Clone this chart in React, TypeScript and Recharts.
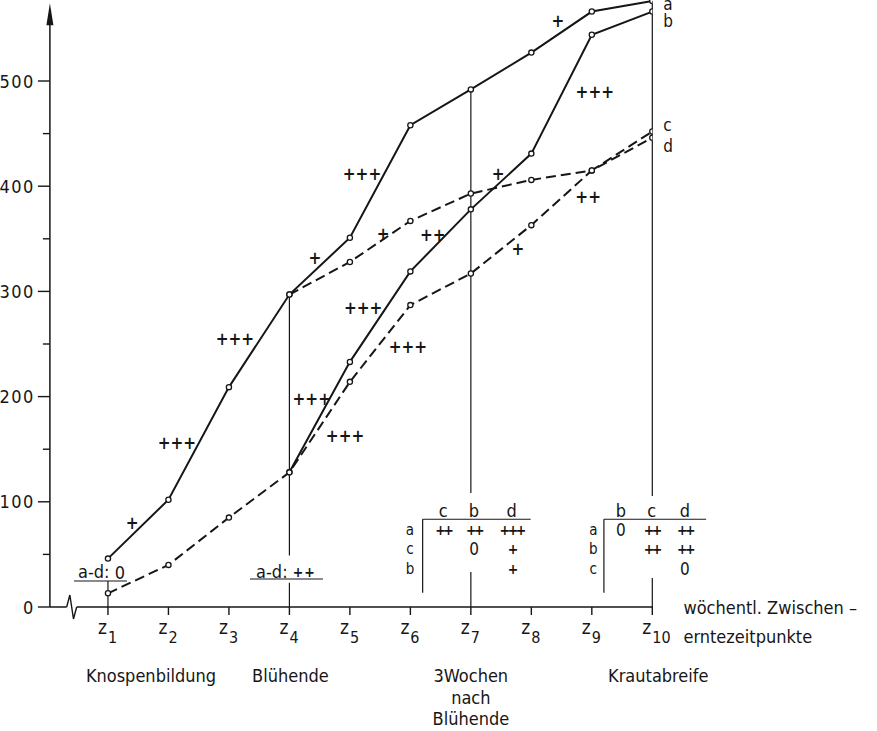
import React from 'react';
import { LineChart, Line, XAxis, YAxis, ReferenceLine, ReferenceDot, LabelList } from 'recharts';

// ---------- data ----------
const zPositions = [1, 2, 3, 4, 5, 6, 7, 8, 9, 10];
const seriesA = [46, 102, 209, 297, 351, 458, 492, 527, 566, 576];
const seriesB = [null, null, null, 128, 233, 319, 378, 431, 544, 566];
const seriesC = [null, null, null, 297, 328, 367, 393, 406, 415, 452];
const seriesD = [13, 40, 85, 128, 214, 287, 317, 363, 415, 446];
const yTicks = [0, 50, 100, 150, 200, 250, 300, 350, 400, 450, 500];
const phaseTicks = [1, 4, 7, 10];
const phaseLabels = ['Knospenbildung', 'Blühende', '3Wochen\nnach\nBlühende', 'Krautabreife'];
const axisTitle = ['wöchentl. Zwischen –', 'erntezeitpunkte'];

// significance marks between curves: x = harvest index, y = value
const signifX = [1.4, 2.14, 3.1, 4.37, 4.92, 4.42, 5.2, 5.55, 6.37, 5.22, 5.96, 7.45, 7.78, 8.44, 9.05, 8.94];
const signifY = [80, 156, 255, 198, 163, 332, 412, 355, 354, 284, 247, 412, 340, 557, 490, 390];
const signifT = ['+', '+++', '+++', '+++', '+++', '+', '+++', '+', '++', '+++', '+++', '+', '+', '+', '+++', '++'];

// comparison tables
const table1Cols = [6.544, 7.052, 7.675];
const table1Head = ['c', 'b', 'd'];
const table1RowX = 5.993;
const table1Rows = ['a', 'c', 'b'];
const table1Cells = [
  ['++', '++', '+++'],
  ['', '0', '+'],
  ['', '', '+'],
];
const table2Cols = [9.482, 9.99, 10.54];
const table2Head = ['b', 'c', 'd'];
const table2RowX = 9.024;
const table2Rows = ['a', 'b', 'c'];
const table2Cells = [
  ['0', '++', '++'],
  ['', '++', '++'],
  ['', '', '0'],
];
const tableHeadY = 92.2;
const tableRowY = [72.8, 54.8, 36.3];
const tableLineY = 83.4;
const tableBottomY = 13.6;
const table1Span = [6.203, 7.989];
const table2Span = [9.2, 10.89];

const data = zPositions.map((x, i) => ({ x, a: seriesA[i], b: seriesB[i], c: seriesC[i], d: seriesD[i] }));

// ---------- style ----------
const INK = '#161616';
const FONT = "'DejaVu Sans Condensed', 'DejaVu Sans', sans-serif";
const X_ID = 'main';

const YTick = (props: any) => {
  const { x, y, payload } = props;
  const major = payload.value % 100 === 0;
  return (
    <g>
      <line x1={x - (major ? 12 : 7)} x2={x} y1={y} y2={y} stroke={INK} strokeWidth={1.4} />
      {major && (
        <text x={x - 15} y={y} textAnchor="end" dominantBaseline="central" fontSize={18} letterSpacing={1.5} fontFamily={FONT} fill={INK}>
          {payload.value}
        </text>
      )}
    </g>
  );
};

const ZTick = (props: any) => {
  const { x, y, payload } = props;
  return (
    <g fontFamily={FONT} fill={INK}>
      <text x={x - 1} y={y + 17} textAnchor="end" fontSize={19}>z</text>
      <text x={x} y={y + 26} textAnchor="start" fontSize={16}>{payload.value}</text>
    </g>
  );
};

const phaseShift = [43, 1, 0, 6];
const PhaseTick = (props: any) => {
  const { x, y, payload } = props;
  const idx = phaseTicks.indexOf(payload.value);
  const lines = (phaseLabels[idx] || '').split('\n');
  const tx = x + phaseShift[idx];
  return (
    <text textAnchor="middle" fontSize={18} fontFamily={FONT} fill={INK}>
      {lines.map((l, i) => (
        <tspan key={i} x={tx} y={y + 35 + i * 21.5}>{l}</tspan>
      ))}
    </text>
  );
};

const mkDot = (key: string) => (p: any) => {
  if (p.cy == null || p.value == null || (Array.isArray(p.value) && p.value[1] == null)) return <g key={`${key}-${p.index}`} />;
  return <circle key={`${key}-${p.index}`} cx={p.cx} cy={p.cy} r={2.6} fill="#fff" stroke={INK} strokeWidth={1.3} />;
};

const endLabel = (t: string, dy: number) => (p: any) => {
  if (p.index !== 9) return null;
  return (
    <text x={p.x + 11} y={p.y + dy} fontSize={17} fontFamily={FONT} fill={INK}>{t}</text>
  );
};

const textShape = (t: string, size: number, weight: any = 'normal', spacing = 0) => (p: any) => (
  <text x={p.cx} y={p.cy} textAnchor="middle" dominantBaseline="central" fontSize={size} fontWeight={weight}
    letterSpacing={spacing} fontFamily={FONT} fill={INK}>{t}</text>
);

const isPlus = (t: string) => t.indexOf('+') >= 0;

const seg = (x1: number, y1: number, x2: number, y2: number, key: string, w = 1.2) => (
  <ReferenceLine key={key} xAxisId={X_ID} segment={[{ x: x1, y: y1 }, { x: x2, y: y2 }]} stroke={INK} strokeWidth={w} ifOverflow="visible" />
);

const yAxisShape = (p: any) => {
  const { x1, y1, x2, y2 } = p;
  return (
    <g>
      <line x1={x1} y1={y1} x2={x2} y2={y2 + 18} stroke={INK} strokeWidth={1.5} />
      <polygon points={`${x2},${y2} ${x2 - 3.5},${y2 + 22} ${x2 + 3.5},${y2 + 22}`} fill={INK} />
    </g>
  );
};

const breakShape = (p: any) => {
  const { cx, cy } = p;
  return (
    <g>
      <line x1={cx - 5} x2={cx + 5} y1={cy} y2={cy} stroke="#fff" strokeWidth={3} />
      <path d={`M${cx - 5},${cy} L${cx - 1.8},${cy - 12} L${cx + 1.8},${cy + 12} L${cx + 5},${cy}`} fill="none" stroke={INK} strokeWidth={1.4} />
    </g>
  );
};

const titleShape = (p: any) => (
  <text fontSize={18} fontFamily={FONT} fill={INK}>
    <tspan x={p.cx} y={p.cy + 7}>{axisTitle[0]}</tspan>
    <tspan x={p.cx} y={p.cy + 36}>{axisTitle[1]}</tspan>
  </text>
);

const adShape = (main: string, tail: string, tailSize: number, tailWeight: any) => (p: any) => (
  <text x={p.cx} y={p.cy} textAnchor="middle" dominantBaseline="central" fontFamily={FONT} fill={INK} fontSize={18}>
    {main}
    <tspan fontSize={tailSize} fontWeight={tailWeight} letterSpacing={1}>{tail}</tspan>
  </text>
);

export default function App() {
  const lineProps = { type: 'linear' as const, stroke: INK, strokeWidth: 2, isAnimationActive: false, xAxisId: X_ID, connectNulls: false };
  const cellShape = (t: string) => isPlus(t) ? textShape(t, 14, 'bold', -2.5) : textShape(t, 17);
  return (
    <div style={{ position: 'absolute', left: 0, top: 0, background: '#fff' }}>
      <LineChart width={877} height={731} data={data} margin={{ top: 0, right: 224.7, bottom: 0, left: 0 }}>
        <XAxis xAxisId={X_ID} type="number" dataKey="x" domain={[0.04, 10]} ticks={zPositions} allowDataOverflow
          height={40} tickSize={8} tickMargin={2} tick={<ZTick />} interval={0}
          axisLine={{ stroke: INK, strokeWidth: 1.5 }} tickLine={{ stroke: INK, strokeWidth: 1.4 }} />
        <XAxis xAxisId="phase" type="number" dataKey="x" domain={[0.04, 10]} ticks={phaseTicks} allowDataOverflow
          height={84} tickSize={0} tickMargin={0} tick={<PhaseTick />} interval={0} axisLine={false} tickLine={false} />
        <YAxis type="number" domain={[0, 577]} ticks={yTicks} width={49.9} allowDataOverflow
          tickSize={0} tickMargin={0} tick={<YTick />} interval={0} axisLine={false} tickLine={false} />

        {/* y axis with arrow */}
        <ReferenceLine xAxisId={X_ID} segment={[{ x: 0.04, y: 0 }, { x: 0.04, y: 574 }]} ifOverflow="visible" shape={yAxisShape} />
        <ReferenceDot xAxisId={X_ID} x={0.4} y={0} r={0} ifOverflow="visible" shape={breakShape} />

        {/* vertical marker lines at harvest stages */}
        {seg(1, 0, 1, 24.7, 'v1')}
        {seg(4, seriesA[3], 4, 49, 'v4a')}
        {seg(4, 23, 4, 0, 'v4b')}
        {seg(7, seriesA[6], 7, 108.4, 'v7a')}
        {seg(7, 33.3, 7, 0, 'v7b')}
        {seg(10, seriesA[9], 10, 105.5, 'v10a')}
        {seg(10, 27.6, 10, 0, 'v10b')}
        {seg(0.438, 24.7, 1.314, 24.7, 'u1')}
        {seg(3.348, 26.6, 4.555, 26.6, 'u4')}

        {/* tables */}
        {seg(table1Span[0], tableLineY, table1Span[1], tableLineY, 't1h')}
        {seg(table1Span[0], tableLineY, table1Span[0], tableBottomY, 't1v')}
        {seg(table2Span[0], tableLineY, table2Span[1], tableLineY, 't2h')}
        {seg(table2Span[0], tableLineY, table2Span[0], tableBottomY, 't2v')}

        <Line {...lineProps} dataKey="d" strokeDasharray="10 5" dot={mkDot('d')}>
          <LabelList dataKey="d" content={endLabel('d', 14)} />
        </Line>
        <Line {...lineProps} dataKey="c" strokeDasharray="10 5" dot={mkDot('c')}>
          <LabelList dataKey="c" content={endLabel('c', 0)} />
        </Line>
        <Line {...lineProps} dataKey="b" dot={mkDot('b')}>
          <LabelList dataKey="b" content={endLabel('b', 15)} />
        </Line>
        <Line {...lineProps} dataKey="a" dot={mkDot('a')}>
          <LabelList dataKey="a" content={endLabel('a', 9)} />
        </Line>

        {signifX.map((x, i) => (
          <ReferenceDot key={`s${i}`} xAxisId={X_ID} x={x} y={signifY[i]} r={0} ifOverflow="visible"
            shape={textShape(signifT[i], 17, 'bold')} />
        ))}

        {table1Head.map((t, i) => (
          <ReferenceDot key={`t1h${i}`} xAxisId={X_ID} x={table1Cols[i]} y={tableHeadY} r={0} ifOverflow="visible" shape={textShape(t, 18)} />
        ))}
        {table1Rows.map((t, i) => (
          <ReferenceDot key={`t1r${i}`} xAxisId={X_ID} x={table1RowX} y={tableRowY[i]} r={0} ifOverflow="visible" shape={textShape(t, 15)} />
        ))}
        {table1Cells.flatMap((row, r) => row.map((t, c) => t ? (
          <ReferenceDot key={`t1c${r}${c}`} xAxisId={X_ID} x={table1Cols[c]} y={tableRowY[r]} r={0} ifOverflow="visible"
            shape={cellShape(t)} />
        ) : null))}

        {table2Head.map((t, i) => (
          <ReferenceDot key={`t2h${i}`} xAxisId={X_ID} x={table2Cols[i]} y={tableHeadY} r={0} ifOverflow="visible" shape={textShape(t, 18)} />
        ))}
        {table2Rows.map((t, i) => (
          <ReferenceDot key={`t2r${i}`} xAxisId={X_ID} x={table2RowX} y={tableRowY[i]} r={0} ifOverflow="visible" shape={textShape(t, 15)} />
        ))}
        {table2Cells.flatMap((row, r) => row.map((t, c) => t ? (
          <ReferenceDot key={`t2c${r}${c}`} xAxisId={X_ID} x={table2Cols[c]} y={tableRowY[r]} r={0} ifOverflow="visible"
            shape={cellShape(t)} />
        ) : null))}

        <ReferenceDot xAxisId={X_ID} x={0.901} y={33.3} r={0} ifOverflow="visible" shape={adShape('a-d: ', '0', 18, 'normal')} />
        <ReferenceDot xAxisId={X_ID} x={3.943} y={33.3} r={0} ifOverflow="visible" shape={adShape('a-d: ', '++', 14, 'bold')} />

        <ReferenceDot xAxisId={X_ID} x={10.515} y={0} r={0} ifOverflow="visible" shape={titleShape} />
      </LineChart>
    </div>
  );
}
